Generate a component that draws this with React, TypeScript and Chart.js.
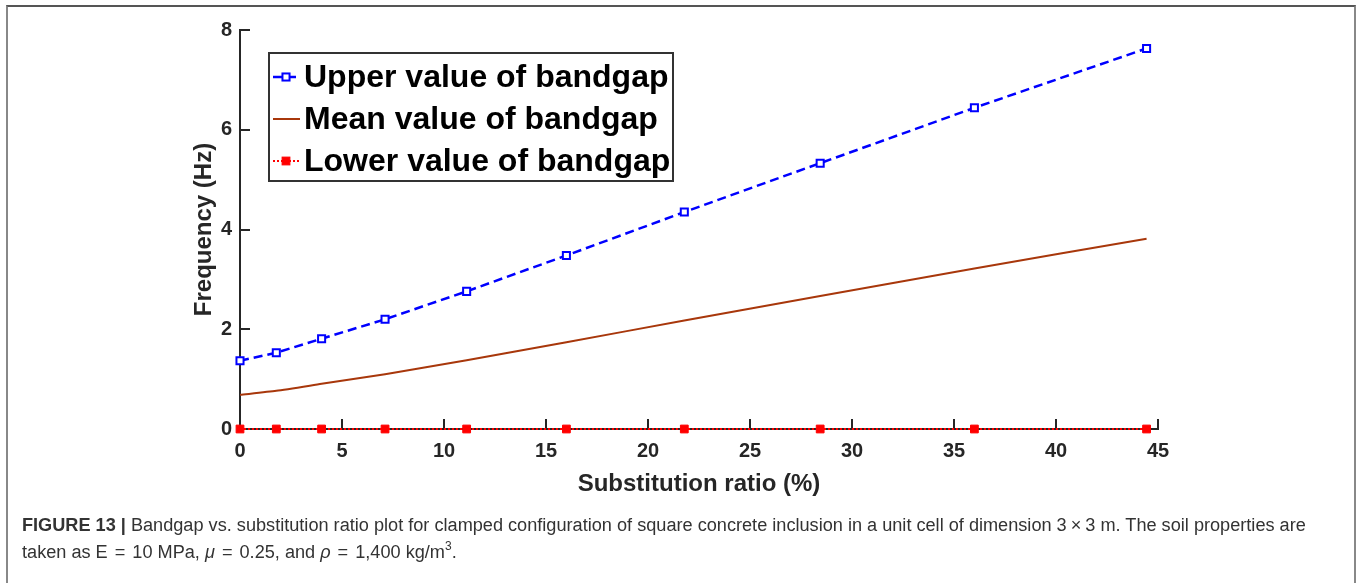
import React, { useEffect, useRef } from "react";
import { Chart, registerables } from "chart.js";

Chart.register(...registerables);

// ---- data ----
const substitutionRatio = [0, 1.78, 4, 7.11, 11.11, 16, 21.78, 28.44, 36, 44.44];
const upperValues = [1.37, 1.53, 1.81, 2.2, 2.76, 3.48, 4.35, 5.33, 6.44, 7.63];
const meanValues = [0.685, 0.765, 0.905, 1.1, 1.38, 1.74, 2.175, 2.665, 3.22, 3.815];
const lowerValues = [0, 0, 0, 0, 0, 0, 0, 0, 0, 0];
const xTickValues = [0, 5, 10, 15, 20, 25, 30, 35, 40, 45];
const yTickValues = [0, 2, 4, 6, 8];
const seriesLabels = ["Upper value of bandgap", "Mean value of bandgap", "Lower value of bandgap"];
const xTitle = "Substitution ratio (%)";
const yTitle = "Frequency (Hz)";

const FONT = '"Liberation Sans", Arial, Helvetica, sans-serif';
const AXIS = "#262626";
const BLUE = "#0000FF";
const BROWN = "#A8370B";
const RED = "#FF0000";

const toPoints = (ys: number[]) => substitutionRatio.map((x, i) => ({ x, y: ys[i] }));

const inwardTicks = {
  id: "inwardTicks",
  beforeDatasetsDraw(chart: any) {
    const { ctx, chartArea, scales } = chart;
    const xs = scales.x;
    const ys = scales.y;
    ctx.save();
    ctx.strokeStyle = AXIS;
    ctx.lineWidth = 2;
    xs.ticks.forEach((t: any) => {
      if (t.value === 0) return;
      const px = Math.round(xs.getPixelForValue(t.value));
      ctx.beginPath();
      ctx.moveTo(px, chartArea.bottom);
      ctx.lineTo(px, chartArea.bottom - 10);
      ctx.stroke();
    });
    ys.ticks.forEach((t: any) => {
      if (t.value === 0) return;
      const py = Math.round(ys.getPixelForValue(t.value));
      ctx.beginPath();
      ctx.moveTo(chartArea.left, py);
      ctx.lineTo(chartArea.left + 10, py);
      ctx.stroke();
    });
    ctx.restore();
  },
};

const boxLegend = {
  id: "boxLegend",
  afterDraw(chart: any) {
    const { ctx, chartArea } = chart;
    const left = chartArea.left + 29;
    const top = chartArea.top + 23;
    const w = 404;
    const h = 128;
    ctx.save();
    ctx.fillStyle = "#ffffff";
    ctx.fillRect(left, top, w, h);
    ctx.strokeStyle = "#333333";
    ctx.lineWidth = 2;
    ctx.strokeRect(left, top, w, h);
    const rows = [24, 66, 108];
    const sx0 = left + 4;
    const sx1 = left + 31;
    const mx = left + 17;
    chart.data.datasets.forEach((ds: any, i: number) => {
      const cy = top + rows[i];
      ctx.save();
      ctx.strokeStyle = ds.borderColor;
      ctx.lineWidth = ds.borderWidth;
      ctx.setLineDash(ds.borderDash || []);
      ctx.beginPath();
      ctx.moveTo(sx0, cy);
      ctx.lineTo(sx1, cy);
      ctx.stroke();
      ctx.setLineDash([]);
      if (ds.pointRadius > 0) {
        const s = ds.pointRadius * Math.SQRT1_2;
        ctx.fillStyle = ds.pointBackgroundColor;
        ctx.fillRect(mx - s, cy - s, 2 * s, 2 * s);
        ctx.lineWidth = ds.pointBorderWidth;
        ctx.strokeStyle = ds.pointBorderColor;
        ctx.strokeRect(mx - s, cy - s, 2 * s, 2 * s);
      }
      ctx.restore();
      ctx.fillStyle = "#000000";
      ctx.font = `bold 32px ${FONT}`;
      ctx.textBaseline = "middle";
      ctx.textAlign = "left";
      ctx.fillText(ds.label, left + 35, cy + 1);
    });
    ctx.restore();
  },
};

const eqStyle: React.CSSProperties = { margin: "0 7px" };

export default function App() {
  const ref = useRef<HTMLCanvasElement | null>(null);

  useEffect(() => {
    if (!ref.current) return;
    const chart = new Chart(ref.current, {
      type: "line",
      data: {
        datasets: [
          {
            label: seriesLabels[0],
            data: toPoints(upperValues),
            borderColor: BLUE,
            borderWidth: 2.5,
            borderDash: [9, 5],
            pointStyle: "rect",
            pointRadius: 5,
            pointBorderWidth: 2,
            pointBorderColor: BLUE,
            pointBackgroundColor: "#ffffff",
            clip: false,
            tension: 0,
          },
          {
            label: seriesLabels[1],
            data: toPoints(meanValues),
            borderColor: BROWN,
            borderWidth: 2,
            pointRadius: 0,
            clip: false,
            tension: 0.2,
          },
          {
            label: seriesLabels[2],
            data: toPoints(lowerValues),
            borderColor: RED,
            borderWidth: 2,
            borderDash: [2, 2],
            pointStyle: "rect",
            pointRadius: 5.5,
            pointBorderWidth: 1,
            pointBorderColor: RED,
            pointBackgroundColor: RED,
            clip: false,
          },
        ],
      },
      options: {
        responsive: false,
        animation: false,
        devicePixelRatio: 1,
        layout: { padding: { left: 180, right: 199, top: 30, bottom: 82 } },
        plugins: { legend: { display: false }, tooltip: { enabled: false } },
        scales: {
          x: {
            type: "linear",
            min: 0,
            max: 45,
            afterBuildTicks: (s: any) => {
              s.ticks = xTickValues.map((v) => ({ value: v }));
            },
            afterFit: (s: any) => {
              s.height = 72;
            },
            grid: { display: false, drawTicks: false },
            border: { display: true, color: AXIS, width: 2 },
            ticks: {
              color: AXIS,
              padding: 10,
              maxRotation: 0,
              autoSkip: false,
              font: { family: FONT, size: 20, weight: "bold" },
            },
            title: {
              display: true,
              text: xTitle,
              color: AXIS,
              padding: { top: 0, bottom: 2 },
              font: { family: FONT, size: 24, weight: "bold" },
            },
          },
          y: {
            type: "linear",
            min: 0,
            max: 8,
            afterBuildTicks: (s: any) => {
              s.ticks = yTickValues.map((v) => ({ value: v }));
            },
            afterFit: (s: any) => {
              s.width = 60;
            },
            grid: { display: false, drawTicks: false },
            border: { display: true, color: AXIS, width: 2 },
            ticks: {
              color: AXIS,
              padding: 8,
              autoSkip: false,
              font: { family: FONT, size: 20, weight: "bold" },
            },
            title: {
              display: true,
              text: yTitle,
              color: AXIS,
              padding: { top: 10, bottom: 0 },
              font: { family: FONT, size: 24, weight: "bold" },
            },
          },
        },
      },
      plugins: [inwardTicks, boxLegend],
    } as any);
    return () => chart.destroy();
  }, []);

  return (
    <div
      style={{
        position: "absolute",
        left: 0,
        top: 0,
        width: 1357,
        height: 583,
        overflow: "hidden",
        background: "#ffffff",
      }}
    >
      <div
        style={{
          position: "absolute",
          left: 6,
          top: 5,
          width: 1346,
          height: 640,
          borderTop: "2px solid #555555",
          borderLeft: "2px solid #888888",
          borderRight: "2px solid #888888",
        }}
      />
      <canvas
        ref={ref}
        width={1357}
        height={583}
        style={{ position: "absolute", left: 0, top: 0, width: 1357, height: 583, display: "block" }}
      />
      <div
        style={{
          position: "absolute",
          left: 22,
          top: 512,
          fontFamily: FONT,
          fontSize: 18.15,
          lineHeight: "27px",
          color: "#333333",
          whiteSpace: "nowrap",
        }}
      >
        <b>FIGURE 13 |</b> Bandgap vs. substitution ratio plot for clamped configuration of square concrete
        inclusion in a unit cell of dimension 3<span style={{ margin: "0 4px" }}>×</span>3 m. The soil properties are
        <br />
        taken as E<span style={eqStyle}>=</span>10 MPa, <i>μ</i>
        <span style={eqStyle}>=</span>0.25, and <i>ρ</i>
        <span style={eqStyle}>=</span>1,400 kg/m
        <span style={{ fontSize: 12, position: "relative", top: -8 }}>3</span>.
      </div>
    </div>
  );
}
